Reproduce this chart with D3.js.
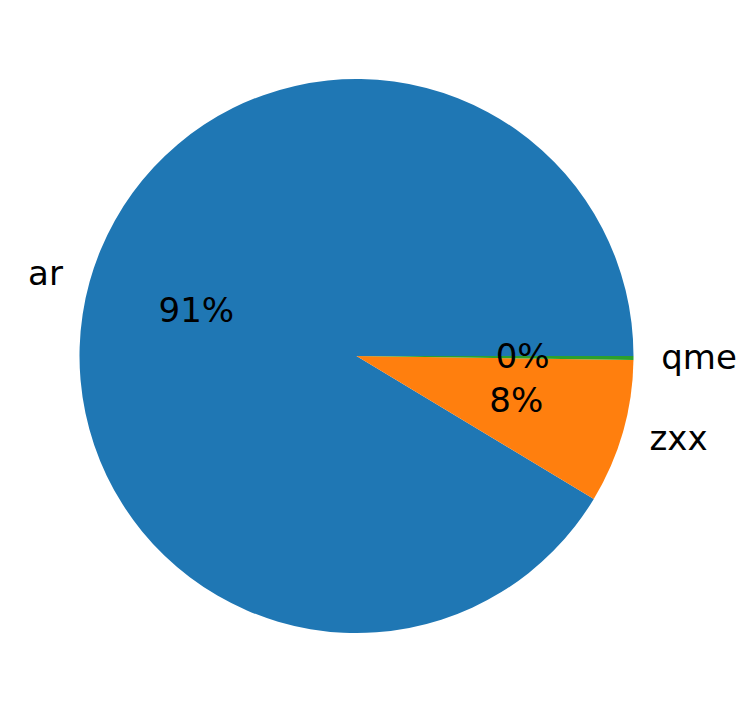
<!DOCTYPE html>
<html>
<head>
<meta charset="utf-8">
<script src="https://cdn.jsdelivr.net/npm/d3@7"></script>
<style>
  body { margin: 0; background: #fff; }
  text { font-family: "DejaVu Sans", sans-serif; }
</style>
</head>
<body>
<div id="chart"></div>
<script>
var labels = ["ar", "zxx", "qme"];
var values = [91.4, 8.4, 0.23];
var colors = ["#1f77b4", "#ff7f0e", "#2ca02c"];

var width = 748, height = 713;
var cx = 356.5, cy = 356, radius = 277;
var fontSize = 34;

var svg = d3.select("#chart").append("svg")
    .attr("width", width)
    .attr("height", height);

var g = svg.append("g").attr("transform", "translate(" + cx + "," + cy + ")");

// matplotlib style: start at 3 o'clock, go counterclockwise
var pie = d3.pie()
    .sort(null)
    .startAngle(Math.PI / 2)
    .endAngle(Math.PI / 2 - 2 * Math.PI);

var arcs = pie(values);
var total = d3.sum(values);

var arc = d3.arc().innerRadius(0).outerRadius(radius);

g.selectAll("path.slice")
    .data(arcs)
    .enter()
    .append("path")
    .attr("class", "slice")
    .attr("fill", (d, i) => colors[i])
    .attr("d", arc);

function pos(d, r) {
    var a = (d.startAngle + d.endAngle) / 2;
    return [r * Math.sin(a), -r * Math.cos(a)];
}

// category labels at 1.1 r
g.selectAll("text.lbl")
    .data(arcs)
    .enter()
    .append("text")
    .attr("class", "lbl")
    .attr("x", d => pos(d, radius * 1.1)[0])
    .attr("y", d => pos(d, radius * 1.1)[1] - 1.5)
    .attr("text-anchor", d => pos(d, 1)[0] > 0 ? "start" : "end")
    .attr("dominant-baseline", "central")
    .attr("font-size", fontSize)
    .attr("fill", "#000")
    .text((d, i) => labels[i]);

// percentages at 0.6 r
g.selectAll("text.pct")
    .data(arcs)
    .enter()
    .append("text")
    .attr("class", "pct")
    .attr("x", d => pos(d, radius * 0.6)[0])
    .attr("y", d => pos(d, radius * 0.6)[1] - 1.5)
    .attr("text-anchor", "middle")
    .attr("dominant-baseline", "central")
    .attr("font-size", fontSize)
    .attr("fill", "#000")
    .text(d => Math.round(d.value / total * 100) + "%");
</script>
</body>
</html>
